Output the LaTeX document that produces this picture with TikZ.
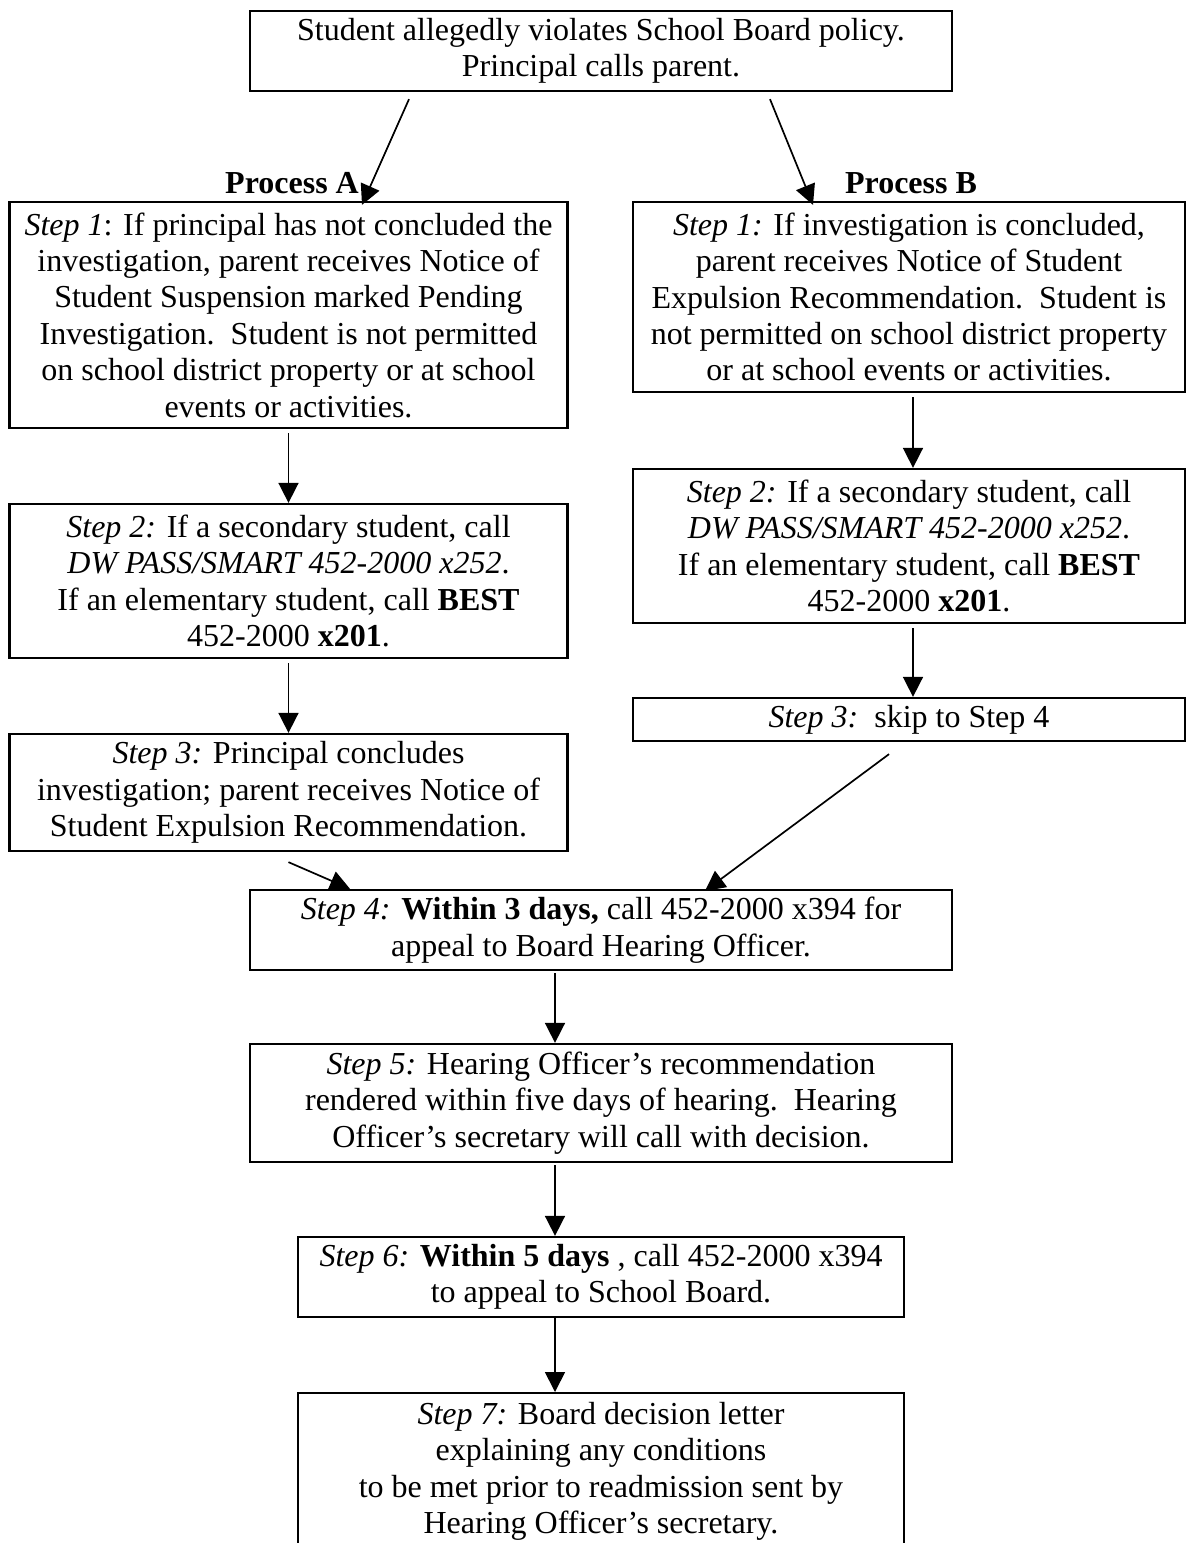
\documentclass[tikz,border=0pt]{standalone}
\usepackage{fontspec}
\setmainfont{Liberation Serif}
\usepackage{tikz}
\usetikzlibrary{arrows.meta}

\begin{document}
\begin{tikzpicture}[x=0.5pt,y=0.5pt,yscale=-1,xscale=1,
  stepbox/.style={draw, line width=1.15pt, align=center, inner sep=0pt, font=\fontsize{16}{18.2}\selectfont},
  proclabel/.style={inner sep=0pt, font=\fontsize{16}{18.2}\selectfont\bfseries},
  flow/.style={-{Triangle[length=10pt,width=10pt]}, line width=0.85pt}]
%uncomment if require: \path (0,1543); %set diagram left start at 0, and has height of 1543
\useasboundingbox (0,0) rectangle (1187,1543);

%Shape: Rectangle [id:top]
\node (top) [stepbox, minimum width=351pt, minimum height=40pt] at (601,51) {Student allegedly violates School Board policy.\\ Principal calls parent.};
% Text Node
\node (procA) [proclabel] at (292,183) {Process A};
% Text Node
\node (procB) [proclabel] at (911,183) {Process B};

%Shape: Rectangle [id:a1]
\node (a1) [stepbox, minimum width=279pt, minimum height=113pt] at (288.5,315) {\textit{Step 1}: If principal has not concluded the\\ investigation, parent receives Notice of\\ Student Suspension marked Pending\\ Investigation.\ \ Student is not permitted\\ on school district property or at school\\ events or activities.};
%Shape: Rectangle [id:b1]
\node (b1) [stepbox, minimum width=276pt, minimum height=95pt] at (909,297) {\textit{Step 1:} If investigation is concluded,\\ parent receives Notice of Student\\ Expulsion Recommendation.\ \ Student is\\ not permitted on school district property\\ or at school events or activities.};

%Shape: Rectangle [id:a2]
\node (a2) [stepbox, minimum width=279pt, minimum height=77pt] at (288.5,581) {\textit{Step 2:} If a secondary student, call\\ \textit{DW PASS/SMART 452-2000 x252}.\\ If an elementary student, call \textbf{BEST}\\ 452-2000 \textbf{x201}.};
%Shape: Rectangle [id:b2]
\node (b2) [stepbox, minimum width=276pt, minimum height=77pt] at (909,546) {\textit{Step 2:} If a secondary student, call\\ \textit{DW PASS/SMART 452-2000 x252}.\\ If an elementary student, call \textbf{BEST}\\ 452-2000 \textbf{x201}.};

%Shape: Rectangle [id:a3]
\node (a3) [stepbox, minimum width=279pt, minimum height=58.5pt] at (288.5,792.5) {\textit{Step 3:} Principal concludes\\ investigation; parent receives Notice of\\ Student Expulsion Recommendation.};
%Shape: Rectangle [id:b3]
\node (b3) [stepbox, minimum width=276pt, minimum height=21.5pt] at (909,719.5) {\textit{Step 3:}\ \ skip to Step 4};

%Shape: Rectangle [id:s4]
\node (s4) [stepbox, minimum width=351pt, minimum height=40pt] at (601,930) {\textit{Step 4:} \textbf{Within 3 days,} call 452-2000 x394 for\\ appeal to Board Hearing Officer.};
%Shape: Rectangle [id:s5]
\node (s5) [stepbox, minimum width=351pt, minimum height=59pt] at (601,1103) {\textit{Step 5:} Hearing Officer’s recommendation\\ rendered within five days of hearing.\ \ Hearing\\ Officer’s secretary will call with decision.};
%Shape: Rectangle [id:s6]
\node (s6) [stepbox, minimum width=303pt, minimum height=40pt] at (601,1277) {\textit{Step 6:} \textbf{Within 5 days} , call 452-2000 x394\\ to appeal to School Board.};
%Shape: Rectangle [id:s7]
\node (s7) [stepbox, minimum width=303pt, inner ysep=4.5pt, anchor=north] at (601,1392) {\textit{Step 7:} Board decision letter\\ explaining any conditions\\ to be met prior to readmission sent by\\ Hearing Officer’s secretary.};

%Straight Lines (yshift is flipped by yscale=-1: positive goes down)
\draw [flow] ([xshift=-96pt,yshift=3.5pt]top.south) -- ([xshift=36.75pt,yshift=2pt]a1.north);
\draw [flow] ([xshift=84.5pt,yshift=3.5pt]top.south) -- ([xshift=-48pt,yshift=2pt]b1.north);
\draw [flow] ([yshift=2pt]a1.south) -- (a2.north);
\draw [flow] ([yshift=2pt]a2.south) -- (a3.north);
\draw [flow] ([xshift=2pt,yshift=2pt]b1.south) -- ([xshift=2pt]b2.north);
\draw [flow] ([xshift=2pt,yshift=2pt]b2.south) -- ([xshift=2pt]b3.north);
\draw [flow] ([yshift=5pt]a3.south) -- ([xshift=-125.5pt]s4.north);
\draw [flow] ([xshift=-10pt,yshift=6pt]b3.south) -- ([xshift=52pt,yshift=1pt]s4.north);
\draw [flow] ([xshift=-23pt,yshift=1pt]s4.south) -- ([xshift=-23pt]s5.north);
\draw [flow] ([xshift=-23pt,yshift=1pt]s5.south) -- ([xshift=-23pt]s6.north);
\draw [flow] ([xshift=-23pt]s6.south) -- ([xshift=-23pt]s7.north);

\end{tikzpicture}
\end{document}
